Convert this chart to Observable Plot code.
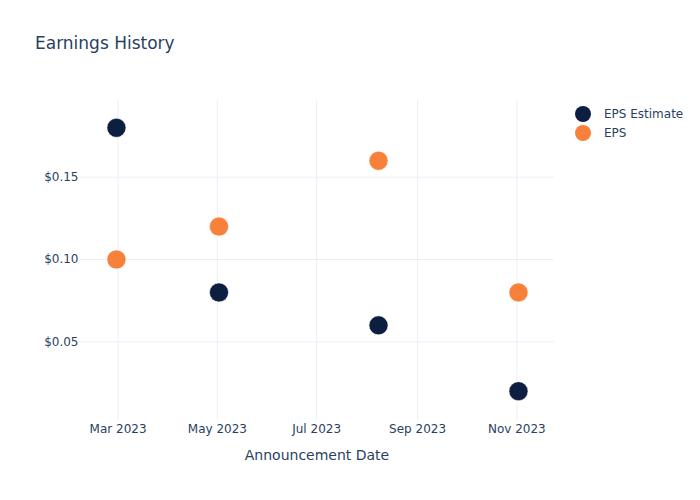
<!DOCTYPE html>
<html>
<head>
<meta charset="utf-8">
<script src="https://cdn.jsdelivr.net/npm/d3@7"></script>
<script src="https://cdn.jsdelivr.net/npm/@observablehq/plot@0.6"></script>
<style>
  body { margin: 0; background: white; }
  #wrap { position: relative; width: 700px; height: 500px; font-family: "DejaVu Sans", sans-serif; color: #2a3f5f; }
  #title { position: absolute; left: 35px; top: 33px; font-size: 17px; }
  #xlabel { position: absolute; left: 0; width: 634px; text-align: center; top: 447px; font-size: 14px; }
  .leg { position: absolute; left: 575px; font-size: 12px; display: flex; align-items: center; }
  .leg span.m { display: inline-block; width: 16px; height: 16px; border-radius: 50%; margin-right: 13px; }
</style>
</head>
<body>
<div id="wrap">
  <div id="title">Earnings History</div>
  <div id="xlabel">Announcement Date</div>
  <div class="leg" style="top:106px"><span class="m" style="background:#0c1f40"></span>EPS Estimate</div>
  <div class="leg" style="top:125px"><span class="m" style="background:#f7813b"></span>EPS</div>
</div>
<script>
const dates = ["2023-02-28", "2023-05-02", "2023-08-08", "2023-11-02"];
const epsEstimate = [0.18, 0.08, 0.06, 0.02];
const eps = [0.10, 0.12, 0.16, 0.08];
const xTicks = ["2023-03-01", "2023-05-01", "2023-07-01", "2023-09-01", "2023-11-01"];
const yTicks = [0.05, 0.10, 0.15];
const series = ["EPS Estimate", "EPS"];
const colors = ["#0c1f40", "#f7813b"];

const rows = [];
dates.forEach((d, i) => {
  rows.push({date: new Date(d), value: epsEstimate[i], series: series[0]});
  rows.push({date: new Date(d), value: eps[i], series: series[1]});
});

const chart = Plot.plot({
  width: 700,
  height: 500,
  marginLeft: 80,
  marginRight: 146,
  marginTop: 100,
  marginBottom: 80,
  style: {fontFamily: "DejaVu Sans, sans-serif", fontSize: "12px", color: "#2a3f5f", background: "white"},
  x: {type: "utc", domain: [new Date("2023-02-05T22:00Z"), new Date("2023-11-24T03:00Z")]},
  y: {domain: [0.0022, 0.1966]},
  color: {domain: series, range: colors},
  marks: [
    Plot.gridX(xTicks.map(d => new Date(d)), {stroke: "#ebf0f8", strokeOpacity: 1, strokeWidth: 1}),
    Plot.gridY(yTicks, {stroke: "#ebf0f8", strokeOpacity: 1, strokeWidth: 1}),
    Plot.axisX(xTicks.map(d => new Date(d)), {tickSize: 0, tickPadding: 4, tickFormat: d3.utcFormat("%b %Y"), label: null, fill: "#2a3f5f", fontSize: 12}),
    Plot.axisY(yTicks, {tickSize: 0, tickPadding: 2, tickFormat: d => "$" + d.toFixed(2), label: null, fill: "#2a3f5f", fontSize: 12}),
    Plot.dot(rows, {x: "date", y: "value", fill: "series", r: 9.5, stroke: "white", strokeWidth: 0.5})
  ]
});
document.getElementById("wrap").prepend(chart);
chart.style.position = "absolute";
chart.style.left = "0";
chart.style.top = "0";
</script>
</body>
</html>
